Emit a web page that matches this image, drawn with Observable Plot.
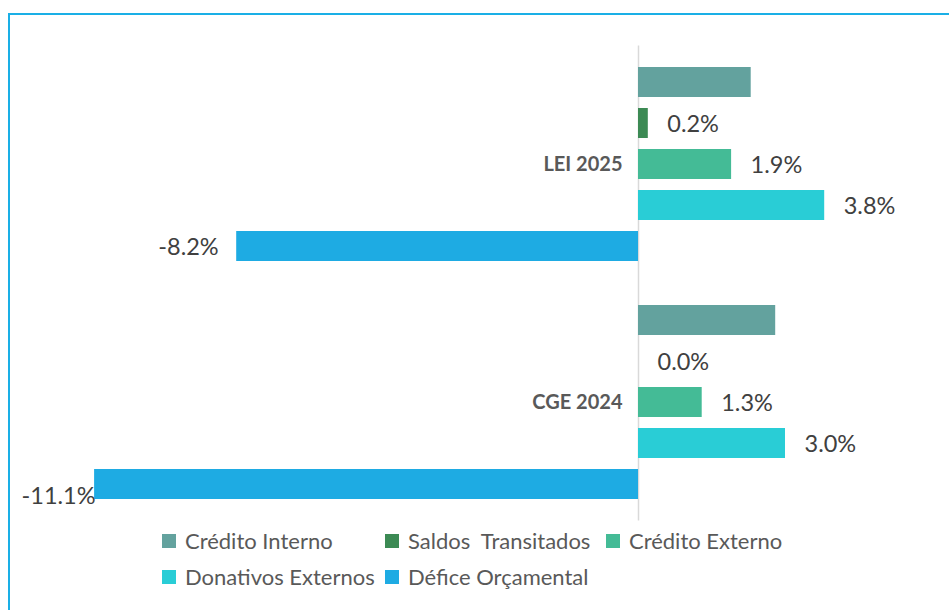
<!DOCTYPE html>
<html>
<head>
<meta charset="utf-8">
<script src="https://cdn.jsdelivr.net/npm/d3@7"></script>
<script src="https://cdn.jsdelivr.net/npm/@observablehq/plot@0.6"></script>
<style>
  html, body { margin: 0; padding: 0; background: #fff; width: 949px; height: 610px; overflow: hidden; }
  #frame { position: absolute; left: 8px; top: 13px; width: 1200px; height: 900px; border: 2px solid #1aafe6; box-sizing: border-box; }
  #chart { position: absolute; left: 0; top: 1px; }
  #legend { position: absolute; left: 162px; top: 527px; display: grid; grid-template-columns: 223px 221px 200px; row-gap: 9px;
    font-family: Lato, "Open Sans", sans-serif; font-size: 22px; color: #595959; }
  .item { display: flex; align-items: center; white-space: pre; height: 27px; }
  .sw { width: 14px; height: 14px; margin-right: 9px; flex: none; }
</style>
</head>
<body>
<div id="frame"></div>
<div id="chart"></div>
<div id="legend"></div>
<script>
const categories = ["LEI 2025", "CGE 2024"];
const series = ["Crédito Interno", "Saldos  Transitados", "Crédito Externo", "Donativos Externos", "Défice Orçamental"];
const colors = ["#63a29e", "#3c8a54", "#44bb96", "#29cdd6", "#1eabe3"];
const lei2025 = [2.3, 0.2, 1.9, 3.8, -8.2];
const cge2024 = [2.8, 0.0, 1.3, 3.0, -11.1];
const showLabel = [false, true, true, true, true];

const rows = [];
categories.forEach((c, ci) => {
  const vals = ci === 0 ? lei2025 : cge2024;
  series.forEach((s, si) => rows.push({category: c, series: s, value: vals[si], label: showLabel[si]}));
});
const labeled = rows.filter(d => d.label);
const fmt = v => v.toFixed(1) + "%";

const chart = Plot.plot({
  width: 949,
  height: 535,
  marginTop: 45,
  marginBottom: 15,
  marginLeft: 50,
  marginRight: 17,
  style: {fontFamily: "Lato, 'Open Sans', sans-serif", background: "transparent", overflow: "visible"},
  x: {domain: [-12, 6], axis: null},
  y: {domain: series, axis: null, paddingInner: 0.28, paddingOuter: 0.14},
  fy: {domain: categories, axis: null, paddingInner: 0.124, paddingOuter: 0.0597},
  color: {domain: series, range: colors},
  marks: [
    Plot.ruleX([categories[0]], {x: 0, fy: d => d, stroke: "#d9d9d9", strokeWidth: 1.5, insetTop: -14.5, insetBottom: -30}),
    Plot.ruleX([categories[1]], {x: 0, fy: d => d, stroke: "#d9d9d9", strokeWidth: 1.5, insetTop: 0, insetBottom: -14.5}),
    Plot.barX(rows, {x: "value", y: "series", fy: "category", fill: "series"}),
    Plot.text(labeled.filter(d => d.value >= 0), {x: "value", y: "series", fy: "category", text: d => fmt(d.value),
      textAnchor: "start", dx: 19, dy: 1, fontSize: 23.5, fill: "#404040"}),
    Plot.text(labeled.filter(d => d.value < 0 && d.value > -10), {x: "value", y: "series", fy: "category", text: d => fmt(d.value),
      textAnchor: "end", dx: -18, dy: 1, fontSize: 23.5, fill: "#404040"}),
    Plot.text(labeled.filter(d => d.value <= -10), {x: "value", y: "series", fy: "category", text: d => fmt(d.value),
      textAnchor: "end", dx: 1, dy: 12, fontSize: 23.5, fill: "#404040"}),
    Plot.text(categories, {fy: d => d, x: 0, text: d => d, textAnchor: "end", dx: -16, fontSize: 20, fontWeight: "bold", fill: "#595959"})
  ]
});
document.getElementById("chart").appendChild(chart);

const legend = document.getElementById("legend");
series.forEach((s, i) => {
  const it = document.createElement("div");
  it.className = "item";
  const sw = document.createElement("span");
  sw.className = "sw";
  sw.style.background = colors[i];
  it.appendChild(sw);
  const t = document.createElement("span");
  t.textContent = s;
  it.appendChild(t);
  legend.appendChild(it);
});
</script>
</body>
</html>
